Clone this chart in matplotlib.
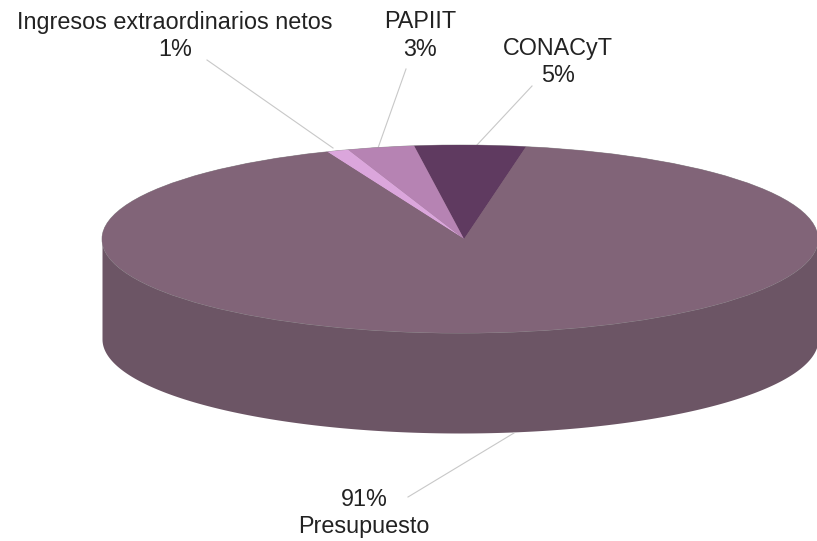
import matplotlib
matplotlib.use("Agg")
import matplotlib.pyplot as plt
from matplotlib.patches import Ellipse
from matplotlib.transforms import Affine2D
import numpy as np

labels = ["CONACyT", "PAPIIT", "Ingresos extraordinarios netos", "Presupuesto"]
shares = [5, 3, 1, 91]
top_colors = ["#5f3a60", "#b683b3", "#dba6dc", "#816478"]
side_color = "#6c5565"

W, H = 817, 541
fig = plt.figure(figsize=(W / 100, H / 100), dpi=100)
ax = fig.add_axes([0, 0, 1, 1])

# pixel-like data space, y down
cx, cy, rx, ry, depth = 460, 239, 358, 94, 100

# side of the cylinder, only the front half shows
t = np.linspace(0, np.pi, 300)
xs = cx + rx * np.cos(t)
ax.fill_between(xs, cy, cy + depth + ry * np.sin(t), color=side_color, lw=0, zorder=1)

# top face, the apex of the slices sits a little right of the middle
top = Ellipse((cx, cy), 2 * rx, 2 * ry, facecolor=top_colors[3], edgecolor="#9a9a9a", lw=0.5, zorder=2)
ax.add_patch(top)

wedges, _ = ax.pie(shares, colors=top_colors, startangle=80, counterclock=True,
                   wedgeprops={"linewidth": 0}, normalize=True)
squash = Affine2D().scale(rx * 1.02, -ry * 1.02).translate(cx + 4, cy) + ax.transData
for w in wedges:
    w.set_transform(squash)
    w.set_zorder(3)
    w.set_clip_on(True)
    w.set_clip_path(top)

ax.set_aspect("auto")
ax.set_xlim(0, W)
ax.set_ylim(H, 0)
ax.axis("off")

# leader lines
line_color = "#c8c8c8"
ax.plot([207, 333], [60, 148], color=line_color, lw=0.8, zorder=1)
ax.plot([406, 378], [69, 148], color=line_color, lw=0.8, zorder=1)
ax.plot([532, 476], [86, 146], color=line_color, lw=0.8, zorder=1)
ax.plot([408, 514], [497, 433], color=line_color, lw=0.8, zorder=1)

font = {"family": "Liberation Sans", "fontsize": 16.8, "color": "#222222", "ha": "center", "va": "center"}
ax.text(175, 22, labels[2], **font)
ax.text(175, 49, f"{shares[2]}%", **font)
ax.text(420, 22, labels[1], **font)
ax.text(420, 49, f"{shares[1]}%", **font)
ax.text(558, 49, labels[0], **font)
ax.text(558, 75, f"{shares[0]}%", **font)
ax.text(364, 500, f"{shares[3]}%", **font)
ax.text(364, 527, labels[3], **font)

fig.savefig("out.png", dpi=100)
